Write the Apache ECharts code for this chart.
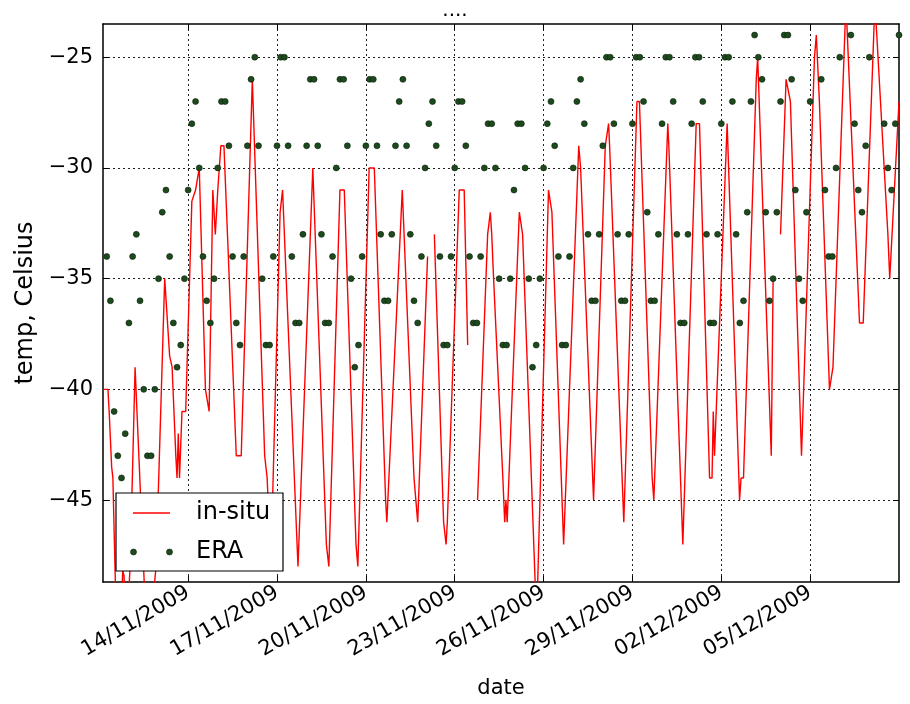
<!DOCTYPE html>
<html>
<head>
<meta charset="utf-8">
<script src="https://cdn.jsdelivr.net/npm/echarts@6/dist/echarts.min.js"></script>
<style>
html, body { margin: 0; padding: 0; background: #fff; }
#chart { width: 910px; height: 704px; }
</style>
</head>
<body>
<div id="chart"></div>
<script>
// ERA: one value every 3 hours from 11/11 06:00
var eraStart = '11/11 06:00';
var eraStepHours = 3;
var eraValues = [
    -34, -36, -41, -43, -44, -42, -37, -34, -33, -36, -40, -43, -43, -40, -35, -32, -31, -34, -37, -39, -38, -35, -31,
    -28, -27, -30, -34, -36, -37, -35, -30, -27, -27, -29,
    -34, -37, -38, -34, -29, -26, -25, -29, -35, -38, -38, -34, -29, -25, -25, -29, -34, -37, -37, -33,
    -29, -26, -26, -29, -33, -37, -37, -34, -30, -26, -26, -29, -35, -39, -38, -34, -29, -26,
    -26, -29, -33, -36, -36, -33, -29, -27, -26, -29, -33, -36, -37, -34, -30, -28, -27, -29,
    -34, -38, -38, -34, -30, -27, -27, -29, -34, -37, -37, -34, -30, -28, -28, -30, -35, -38,
    -38, -35, -31, -28, -28, -30, -35, -39, -38, -35, -30, -28, -27, -29, -34, -38, -38, -34,
    -30, -27, -26, -28, -33, -36, -36, -33, -29, -25, -25, -28, -33, -36, -36, -33, -28, -25, -25,
    -27, -32, -36, -36, -33, -28, -25, -25, -27, -33, -37, -37, -33, -28, -25, -25, -27, -33,
    -37, -37, -33, -28, -25, -25, -27, -33, -37, -36, -32, -27, -24, -25, -26, -32, -36, -35, -32,
    -27, -24, -24, -26, -31, -35, -36, -32, -27, -23, -23, -26, -31, -34, -34, -30, -25,
    -23, -23, -24, -28, -31, -32, -29, -25, -23, -23, -23, -28, -30, -31, -28, -24
];

// in-situ: turning points of the record, null marks a gap
var insituTimes = [
    '11/11 03:00', '11/11 07:00', '11/11 08:00', '11/11 09:00', '11/11 10:00', '11/11 11:00', '11/11 14:00',
    '11/11 18:00', '11/11 19:00', '11/11 20:00', '11/11 22:00', '12/11 01:00', '12/11 05:00', '12/11 13:00',
    '12/11 17:00', '12/11 22:00', '13/11 05:00', '13/11 09:00', '13/11 11:00', '13/11 14:00', '13/11 15:00',
    '13/11 16:00', '13/11 17:00', '13/11 19:00', '13/11 22:00', '14/11 03:00', '14/11 06:00', '14/11 07:00',
    '14/11 09:00', '14/11 10:00', '14/11 14:00', '14/11 17:00', '14/11 20:00', '14/11 22:00', '15/11 00:00',
    '15/11 02:30', '15/11 05:00', '15/11 15:00', '15/11 19:00', '16/11 04:00', '16/11 14:00', '16/11 16:00',
    '16/11 19:00', '17/11 02:30', '17/11 04:30', '17/11 17:00', '18/11 05:00', '18/11 16:00', '18/11 18:00',
    '19/11 03:00', '19/11 06:30', '19/11 16:00', '19/11 17:30', '20/11 02:40', '20/11 06:50', '20/11 16:00',
    '20/11 17:00', '21/11 05:30', '21/11 15:00', '21/11 18:00', '22/11 02:00', '22/11 04:00', '22/11 07:30',
    '22/11 15:00', '22/11 17:00', '22/11 18:00', '23/11 03:40', '23/11 07:40', '23/11 10:30', '23/11 14:00',
    '23/11 18:30', '24/11 02:40', '24/11 04:50', '24/11 06:00', '24/11 07:30', '24/11 15:00', '24/11 16:30',
    '24/11 17:30', '24/11 18:30', '25/11 04:20', '25/11 07:00', '25/11 18:20', '26/11 04:00', '26/11 06:45',
    '26/11 16:15', '27/11 04:30', '27/11 06:00', '27/11 16:30', '28/11 02:00', '28/11 04:40', '28/11 05:30',
    '28/11 17:00', '29/11 03:40', '29/11 05:40', '29/11 16:00', '29/11 17:20', '30/11 04:40', '30/11 05:30',
    '30/11 07:00', '30/11 16:50', '01/12 03:40', '01/12 06:20', '01/12 14:30', '01/12 16:30', '01/12 17:30',
    '01/12 18:30', '02/12 04:45', '02/12 14:50', '02/12 16:00', '02/12 18:00', '03/12 04:20', '03/12 05:30',
    '03/12 16:30', '03/12 18:00', '03/12 20:00', '03/12 22:00', '04/12 00:00', '04/12 04:30', '04/12 06:00',
    '04/12 08:00', '04/12 17:00', '04/12 18:30', '05/12 03:30', '05/12 05:00', '05/12 07:30', '05/12 15:40',
    '05/12 17:00', '05/12 18:30', '06/12 05:00', '06/12 16:00', '06/12 19:00', '07/12 04:30', '07/12 15:00',
    '07/12 16:30', '08/12 00:00'
];
var insituValues = [
    -40, -40, -41, -41, -43.5, -44, -51,
    -49.5, -48.2, -48.4, -51, -48, -39, -49.5,
    -51, -48, -35, -38.5, -39, -43, -44,
    -42, -44, -41, -41, -31.5, -31, -31,
    -30, -32, -40, -41, -31, -33, -31,
    -29, -29, -43, -43, -26, -43, -44,
    -48, -32, -31, -48, -30, -47, -48,
    -31, -31, -47, -48, -30, -30, -45,
    -46, -31, -44, -46, -34, null, -33,
    -46, -47, -46, -31, -31, -38, null,
    -45, -33, -32, -33, -35, -44, -46,
    -45, -46, -32, -33, -50.5, -31, -32,
    -47, -29, -30, -45, -29, -28, -29,
    -46, -27, -27, -44, -45, -28, -29,
    -29, -47, -28, -28, -44, -44, -41,
    -43, -28, -45, -44, -44, -26, -25,
    -43, -35, -35, null, -33, -26, -26,
    -27, -43, -43, -25, -24, -27, -40,
    -40, -39, -22.5, -37, -37, -22.5, -33,
    -35, -27
];

var tickDates = ['14/11', '17/11', '20/11', '23/11', '26/11', '29/11', '02/12', '05/12'];
var yTicks = [-45, -40, -35, -30, -25];
var xStart = '11/11 03:00';
var xEnd = '08/12 00:00';

function toTime(s) {
    var p = s.split(/[\/ :]/);
    return Date.UTC(2009, +p[1] - 1, +p[0], +(p[2] || 0), +(p[3] || 0));
}
function pad(n) { return n < 10 ? '0' + n : '' + n; }
function fmtDate(v) {
    var d = new Date(v);
    return pad(d.getUTCDate()) + '/' + pad(d.getUTCMonth() + 1) + '/' + d.getUTCFullYear();
}
function fmtNum(v) { return v < 0 ? '\u2212' + Math.abs(v) : '' + v; }

var eraData = eraValues.map(function (v, i) {
    return [toTime(eraStart) + i * eraStepHours * 3600000, v];
});
var insituData = insituTimes.map(function (t, i) {
    return [toTime(t), insituValues[i] === null ? '-' : insituValues[i]];
});
var xTicks = tickDates.map(function (d) { return toTime(d); });

var font = 'DejaVu Sans';
var eraColor = '#1d4a1d';
var gridLine = { show: true, lineStyle: { color: '#222', width: 1, type: [2, 3] } };
var frame = { show: true, onZero: false, lineStyle: { color: '#000', width: 1.5 } };

var myChart = echarts.init(document.getElementById('chart'), null, { renderer: 'canvas' });
var option = {
    animation: false,
    backgroundColor: '#fff',
    textStyle: { fontFamily: font, color: '#000' },
    title: {
        text: '....',
        left: 'center',
        top: -4,
        textStyle: { fontFamily: font, fontSize: 20, fontWeight: 'normal', color: '#000' }
    },
    grid: { left: 103, right: 11, top: 24, bottom: 118 },
    xAxis: [
        {
            type: 'value',
            position: 'bottom',
            min: toTime(xStart),
            max: toTime(xEnd),
            axisLine: frame,
            axisTick: { inside: true, length: 6, customValues: xTicks, lineStyle: { color: '#000' } },
            axisLabel: {
                customValues: xTicks,
                rotate: 30,
                margin: 9,
                fontSize: 21,
                fontFamily: font,
                color: '#000',
                formatter: function (v) { return fmtDate(v); }
            },
            splitLine: gridLine,
            name: 'date',
            nameLocation: 'middle',
            nameGap: 96,
            nameTextStyle: { fontFamily: font, fontSize: 21, color: '#000' }
        },
        {
            type: 'value',
            position: 'top',
            min: toTime(xStart),
            max: toTime(xEnd),
            axisLine: frame,
            axisTick: { inside: true, length: 6, customValues: xTicks, lineStyle: { color: '#000' } },
            axisLabel: { show: false },
            splitLine: { show: false }
        }
    ],
    yAxis: [
        {
            type: 'value',
            position: 'left',
            min: -48.7,
            max: -23.5,
            axisLine: frame,
            axisTick: { inside: true, length: 6, customValues: yTicks, lineStyle: { color: '#000' } },
            axisLabel: {
                customValues: yTicks,
                margin: 10,
                fontSize: 21,
                fontFamily: font,
                color: '#000',
                formatter: fmtNum
            },
            splitLine: gridLine,
            name: 'temp, Celsius',
            nameLocation: 'middle',
            nameGap: 51,
            nameRotate: 90,
            nameTextStyle: { fontFamily: font, fontSize: 24, color: '#000' }
        },
        {
            type: 'value',
            position: 'right',
            min: -48.7,
            max: -23.5,
            axisLine: frame,
            axisTick: { inside: true, length: 6, customValues: yTicks, lineStyle: { color: '#000' } },
            axisLabel: { show: false },
            splitLine: { show: false }
        }
    ],
    series: [
        {
            name: 'in-situ',
            type: 'line',
            data: insituData,
            showSymbol: false,
            symbol: 'none',
            connectNulls: false,
            clip: true,
            lineStyle: { color: '#ff0000', width: 1.4 },
            z: 2
        },
        {
            name: 'ERA',
            type: 'scatter',
            data: eraData,
            symbol: 'circle',
            symbolSize: 6,
            clip: true,
            itemStyle: { color: eraColor, borderColor: '#0a1f0a', borderWidth: 0.6, opacity: 1 },
            z: 3
        }
    ],
    graphic: [
        { type: 'rect', z: 100, shape: { x: 116, y: 493, width: 167, height: 78 }, style: { fill: '#fff', stroke: '#000', lineWidth: 1.2 } },
        { type: 'line', z: 101, shape: { x1: 133, y1: 513, x2: 170, y2: 513 }, style: { stroke: '#ff0000', lineWidth: 1.4 } },
        { type: 'text', z: 101, x: 196, y: 513, style: { text: 'in-situ', font: '24px "DejaVu Sans"', fill: '#000', verticalAlign: 'middle' } },
        { type: 'circle', z: 101, shape: { cx: 133.5, cy: 552, r: 3 }, style: { fill: eraColor, stroke: '#0a1f0a', lineWidth: 0.6 } },
        { type: 'circle', z: 101, shape: { cx: 169.5, cy: 552, r: 3 }, style: { fill: eraColor, stroke: '#0a1f0a', lineWidth: 0.6 } },
        { type: 'text', z: 101, x: 196, y: 552, style: { text: 'ERA', font: '24px "DejaVu Sans"', fill: '#000', verticalAlign: 'middle' } }
    ]
};
myChart.setOption(option);
</script>
</body>
</html>
